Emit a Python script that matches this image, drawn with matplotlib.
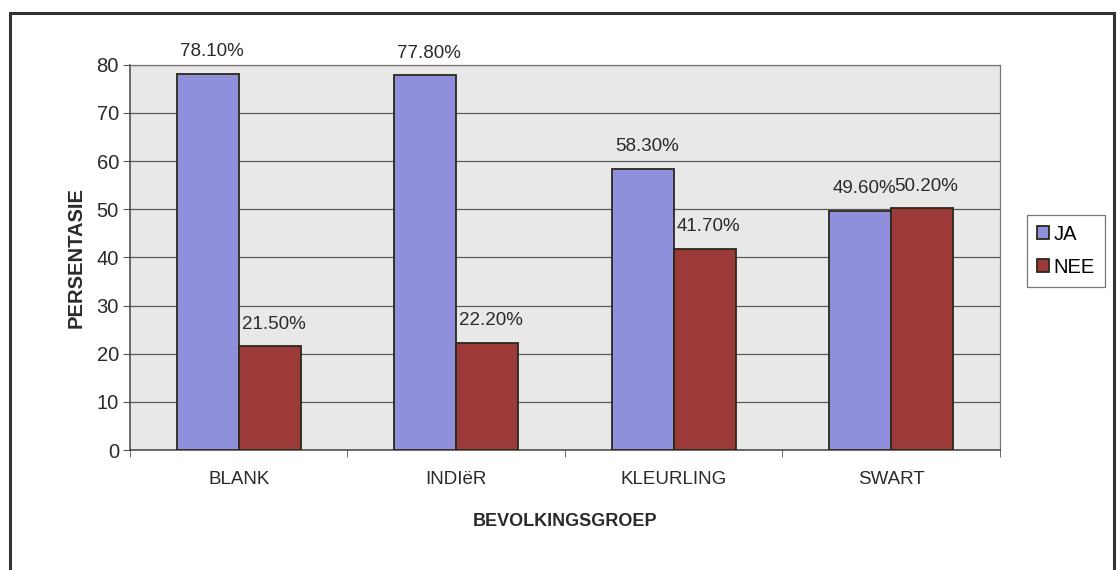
import matplotlib

matplotlib.use("Agg")
import matplotlib.pyplot as plt
from matplotlib.patches import Rectangle
import numpy as np

groups = ["BLANK", "INDIëR", "KLEURLING", "SWART"]
ja = [78.1, 77.8, 58.3, 49.6]
nee = [21.5, 22.2, 41.7, 50.2]
series_names = ["JA", "NEE"]

plt.rcParams["font.family"] = ["Liberation Sans", "DejaVu Sans"]

fig = plt.figure(figsize=(11.17, 5.70), dpi=100)
fig.patch.set_facecolor("white")

# outer chart frame
fig.patches.append(Rectangle((0.009, -0.02), 0.988, 0.997, transform=fig.transFigure,
                             fill=False, edgecolor="#333333", linewidth=2.2))

ax = fig.add_axes([0.1164, 0.2105, 0.7786, 0.676])
ax.set_facecolor("#e8e8e8")

x = np.arange(len(groups))
w = 0.285
b1 = ax.bar(x - w / 2, ja, w, color="#8f8fdc", edgecolor="#2a2a1a", linewidth=1.3,
            label=series_names[0], zorder=3)
b2 = ax.bar(x + w / 2, nee, w, color="#9c3a3a", edgecolor="#2a2a1a", linewidth=1.3,
            label=series_names[1], zorder=3)

for bars, vals in ((b1, ja), (b2, nee)):
    for r, v in zip(bars, vals):
        ax.annotate(f"{v:.2f}%", (r.get_x() + r.get_width() / 2, v), xytext=(3, 16),
                    textcoords="offset points", ha="center", va="center",
                    fontsize=13.5, color="#2a2a2a")

ax.set_xlim(-0.5, len(groups) - 0.5)
ax.set_ylim(0, 80)
ax.set_yticks(range(0, 81, 10))
ax.yaxis.grid(True, color="#5a5a5a", linewidth=0.9, zorder=1)
ax.set_axisbelow(True)

ax.set_xticks(x)
ax.set_xticklabels(groups, fontsize=13.5, color="#2a2a2a")
ax.set_xticks(np.arange(-0.5, len(groups), 1), minor=True)
ax.tick_params(axis="x", which="major", length=0, pad=15)
ax.tick_params(axis="x", which="minor", length=5, direction="out", color="#555555")
ax.tick_params(axis="y", length=5, direction="out", color="#555555", labelsize=14.5,
               labelcolor="#2a2a2a", pad=3)

for side in ("top", "right"):
    ax.spines[side].set_color("#777777")
    ax.spines[side].set_linewidth(0.9)
for side in ("left", "bottom"):
    ax.spines[side].set_color("#444444")
    ax.spines[side].set_linewidth(1.1)

ax.set_xlabel("BEVOLKINGSGROEP", fontsize=13, fontweight="bold", color="#2a2a2a", labelpad=18)
ax.set_ylabel("PERSENTASIE", fontsize=14.5, fontweight="bold", color="#2a2a2a", labelpad=8)

leg = fig.legend(handles=[b1, b2], loc="center left", bbox_to_anchor=(0.919, 0.56),
                 fontsize=14.5, frameon=True, fancybox=False, edgecolor="#555555",
                 handlelength=0.6, handleheight=0.6, handletextpad=0.25, borderpad=0.5,
                 labelspacing=0.7, borderaxespad=0)
leg.get_frame().set_linewidth(0.9)

fig.savefig("out.png", dpi=100)
